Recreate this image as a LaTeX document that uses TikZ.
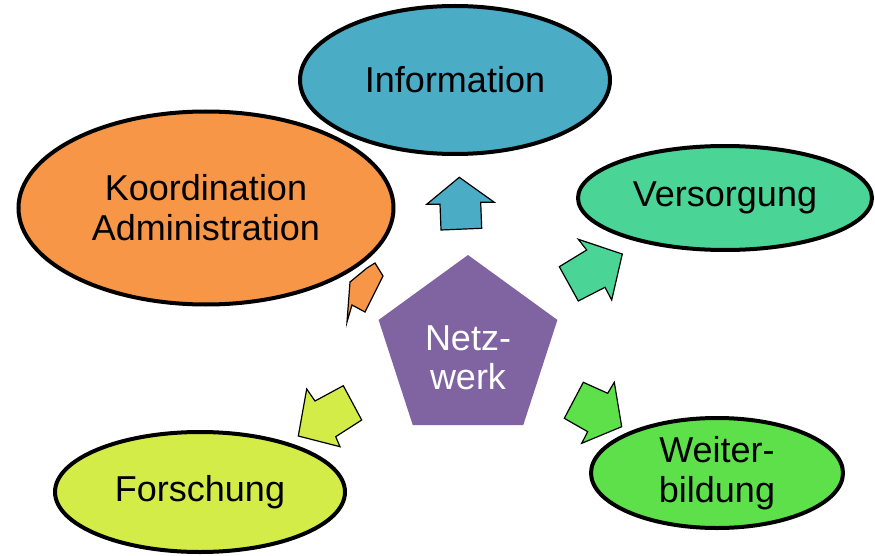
\documentclass[tikz,border=0pt]{standalone}
\usepackage{fontspec}
\setmainfont{Liberation Sans}
\usetikzlibrary{shapes.geometric}
\definecolor{infoblau}{HTML}{4BACC6}
\definecolor{koordorange}{HTML}{F79646}
\definecolor{versgruen}{HTML}{4AD596}
\definecolor{weitergruen}{HTML}{5EE04B}
\definecolor{forschgelb}{HTML}{D4EC48}
\definecolor{netzlila}{HTML}{8064A2}
\tikzset{
  bubble/.style={ellipse, draw=black, line width=4pt, inner sep=0pt, align=center,
    font=\fontsize{36}{40}\selectfont},
  blockpfeil/.style={draw=black, line width=1.2pt, line join=miter},
  netzbox/.style={regular polygon, regular polygon sides=5, minimum size=188pt,
    inner sep=0pt, fill=netzlila},
  netztext/.style={text=white, align=center, inner sep=0pt, font=\fontsize{36}{39}\selectfont}
}
\begin{document}
\begin{tikzpicture}[x=1pt,y=-1pt]
\useasboundingbox (0,0) rectangle (875,556);
% Pfeile
\draw[blockpfeil, fill=koordorange] (375,263)--(383,276)--(365,312)--(352,305)--(347,322)--(350,282)--(367,268)--cycle;
\draw[blockpfeil, fill=infoblau] (459.3,177.3)--(494.3,202.3)--(480.7,202.3)--(481.7,228.3)--(441,230)--(440,204.3)--(426.7,204.3)--cycle;
\draw[blockpfeil, fill=versgruen] (622.3,254)--(611.7,300)--(605,287.3)--(578.3,301)--(559.3,266.7)--(586.7,250)--(578.3,239.3)--cycle;
\draw[blockpfeil, fill=weitergruen] (621.7,426.7)--(581.7,443.3)--(587.7,431.7)--(564.3,418.3)--(583.3,382.3)--(607.7,393.3)--(614.3,382.3)--cycle;
\draw[blockpfeil, fill=forschgelb] (298.3,436)--(306.7,389)--(315,401)--(343.3,385.7)--(361.7,420)--(335.7,436.7)--(340,446.7)--cycle;
% Ellipsen
\node[bubble, fill=infoblau, minimum width=310pt, minimum height=148pt] (info) at (455,80) {Information};
\node[bubble, fill=koordorange, minimum width=375pt, minimum height=193pt] (koord) at (206,208) {Koordination\\Administration};
\node[bubble, fill=versgruen, minimum width=294pt, minimum height=104pt] (vers) at (725,198) {Versorgung};
\node[bubble, fill=weitergruen, minimum width=252pt, minimum height=110pt] (weiter) at (717,473) {Weiter-\\bildung};
\node[bubble, fill=forschgelb, minimum width=290pt, minimum height=120pt] (forsch) at (200,492) {Forschung};
% Mitte
\node[netzbox] (netz) at (468,349) {};
\node[netztext] (netzlabel) at ([yshift=-9pt]netz.center) {Netz-\\werk};
\end{tikzpicture}
\end{document}
